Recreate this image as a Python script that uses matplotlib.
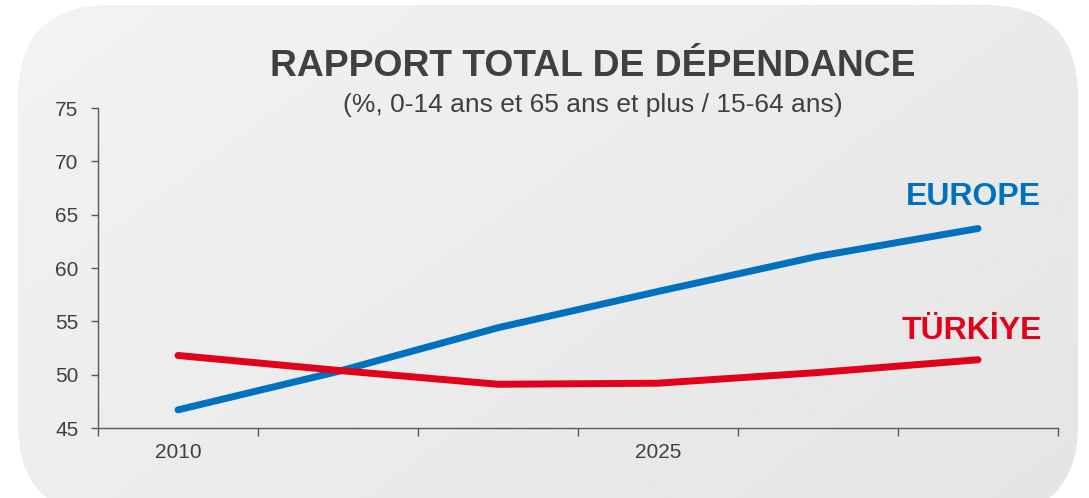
import numpy as np
import matplotlib.pyplot as plt
from matplotlib.patches import FancyBboxPatch

plt.rcParams['font.family'] = ['Liberation Sans', 'DejaVu Sans']

# data
years = [2010, 2015, 2020, 2025, 2030, 2035]
year_labels = ["2010", "", "", "2025", "", ""]
europe = [46.7, 50.3, 54.4, 57.8, 61.1, 63.7]
turkiye = [51.8, 50.4, 49.1, 49.2, 50.2, 51.4]

blue = "#0070c0"
red = "#e2001a"
grey = "#595959"
txt = "#404040"

W, H = 1089, 498
fig = plt.figure(figsize=(W / 100, H / 100), dpi=100)
fig.patch.set_facecolor("white")

# rounded gradient background
bg = fig.add_axes([0, 0, 1, 1])
bg.set_xlim(0, W)
bg.set_ylim(0, H)
bg.axis("off")
box = FancyBboxPatch((18, -18), 1060, 511, boxstyle="round,pad=0,rounding_size=92",
                     facecolor="none", edgecolor="none")
bg.add_patch(box)
grad = np.linspace(0, 1, 256)
gx, gy = np.meshgrid(grad, grad)
img = bg.imshow(0.95 - 0.055 * (gx * 0.6 + gy * 0.4), cmap="gray", vmin=0, vmax=1,
                extent=[18, 1078, -18, 493], origin="upper", aspect="auto")
img.set_clip_path(box)

ax = fig.add_axes([98 / W, 70 / H, 960 / W, 320 / H])
ax.patch.set_alpha(0)
x = np.arange(len(years))
ax.plot(x, europe, color=blue, lw=5, solid_capstyle="round", solid_joinstyle="round")
ax.plot(x, turkiye, color=red, lw=5, solid_capstyle="round", solid_joinstyle="round")

ax.set_xlim(-0.5, len(years) - 0.5)
ax.set_ylim(45, 75)
ax.set_yticks(range(45, 80, 5))
ax.set_xticks(np.arange(-0.5, len(years), 1))
ax.set_xticklabels([])
ax.set_xticks(x, minor=True)
ax.set_xticklabels(year_labels, minor=True)
ax.tick_params(axis="x", which="major", length=6, color=grey, width=1)
ax.tick_params(axis="x", which="minor", length=0, pad=11, labelsize=15, labelcolor=txt)
ax.tick_params(axis="y", length=5, color=grey, width=1, pad=9, labelsize=15, labelcolor=txt)
for s in ["top", "right"]:
    ax.spines[s].set_visible(False)
for s in ["left", "bottom"]:
    ax.spines[s].set_color(grey)
    ax.spines[s].set_linewidth(1)

fig.text(593 / W, 1 - 66 / H, "RAPPORT TOTAL DE DÉPENDANCE", ha="center", va="center",
         fontsize=26.8, fontweight="bold", color=txt)
fig.text(593 / W, 1 - 105 / H, "(%, 0-14 ans et 65 ans et plus / 15-64 ans)", ha="center",
         va="center", fontsize=19, color=txt)
fig.text(1041 / W, 1 - 197 / H, "EUROPE", ha="right", va="center", fontsize=23,
         fontweight="bold", color=blue)
fig.text(1042 / W, 1 - 331 / H, "TÜRKİYE", ha="right", va="center", fontsize=23,
         fontweight="bold", color=red)

fig.savefig("out.png", dpi=100)
